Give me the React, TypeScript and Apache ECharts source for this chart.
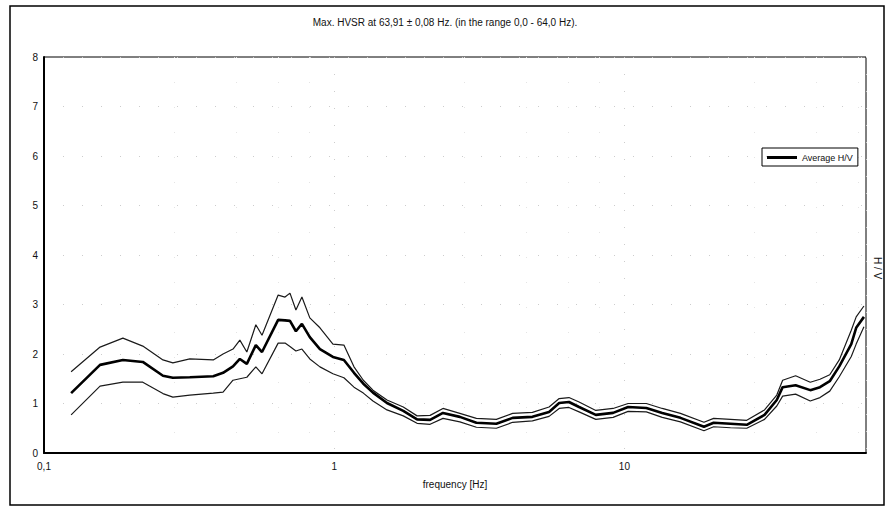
import React, { useEffect, useRef } from "react";
import * as echarts from "echarts";

const titleText = "Max. HVSR at 63,91 \u00b1 0,08 Hz. (in the range 0,0 - 64,0 Hz).";
const xName = "frequency [Hz]";
const yName = "H / V";
const legendName = "Average H/V";

const freqs = [
  0.124, 0.156, 0.187, 0.219, 0.257, 0.278, 0.318, 0.383, 0.414, 0.448, 0.473, 0.5,
  0.537, 0.564, 0.641, 0.677, 0.704, 0.738, 0.774, 0.824, 0.893, 0.99, 1.08, 1.17,
  1.26, 1.36, 1.52, 1.73, 1.93, 2.14, 2.37, 2.71, 3.09, 3.62, 4.12, 4.82, 5.5, 5.96,
  6.44, 6.98, 7.97, 9.14, 10.3, 11.9, 13.5, 15.6, 18.8, 20.3, 23.2, 26.4, 30.4, 33.5,
  35.1, 38.9, 43.7, 47.2, 51.0, 55.0, 60.5, 62.9, 66.9,
];
const upper = [
  1.64, 2.14, 2.32, 2.16, 1.88, 1.82, 1.9, 1.88, 2.0, 2.1, 2.28, 2.04,
  2.59, 2.38, 3.19, 3.15, 3.23, 2.89, 3.15, 2.73, 2.53, 2.2, 2.18, 1.74,
  1.47, 1.27, 1.07, 0.93, 0.75, 0.76, 0.9, 0.8, 0.7, 0.68, 0.8, 0.82, 0.93, 1.1,
  1.12, 1.03, 0.86, 0.9, 1.0, 1.0, 0.9, 0.8, 0.62, 0.7, 0.68, 0.66, 0.87, 1.17,
  1.47, 1.56, 1.43, 1.49, 1.58, 1.88, 2.48, 2.75, 2.97,
];
const average = [
  1.21, 1.78, 1.88, 1.84, 1.56, 1.52, 1.53, 1.55, 1.62, 1.75, 1.9, 1.8,
  2.18, 2.04, 2.69, 2.68, 2.67, 2.46, 2.61, 2.34, 2.1, 1.94, 1.88, 1.62,
  1.4, 1.22, 1.01, 0.85, 0.68, 0.67, 0.81, 0.73, 0.61, 0.59, 0.71, 0.73, 0.83, 1.01,
  1.03, 0.93, 0.77, 0.81, 0.93, 0.91, 0.81, 0.71, 0.53, 0.61, 0.59, 0.57, 0.77, 1.07,
  1.33, 1.37, 1.27, 1.33, 1.45, 1.75, 2.2, 2.53, 2.75,
];
const lower = [
  0.77, 1.35, 1.43, 1.43, 1.2, 1.13, 1.17, 1.21, 1.23, 1.47, 1.5, 1.53,
  1.74, 1.6, 2.22, 2.22, 2.15, 2.06, 2.1, 1.9, 1.74, 1.6, 1.52, 1.33,
  1.21, 1.05, 0.87, 0.75, 0.6, 0.58, 0.7, 0.63, 0.52, 0.5, 0.62, 0.65, 0.74, 0.9,
  0.92, 0.83, 0.68, 0.72, 0.84, 0.83, 0.72, 0.63, 0.45, 0.53, 0.51, 0.5, 0.68, 0.95,
  1.15, 1.19, 1.05, 1.12, 1.25, 1.54, 1.95, 2.2, 2.55,
];

const FONT = "'Liberation Sans Narrow', 'Liberation Sans', Arial, sans-serif";

export default function App() {
  const ref = useRef<HTMLDivElement>(null);
  useEffect(() => {
    if (!ref.current) return;
    const chart = echarts.init(ref.current, null, { renderer: "svg" });
    const pair = (arr: number[]) => freqs.map((f, i) => [f, arr[i]]);
    chart.setOption({
      animation: false,
      backgroundColor: "#fff",
      textStyle: { fontFamily: FONT },
      title: {
        text: titleText,
        left: "center",
        top: 12,
        textStyle: { fontSize: 10, fontWeight: "normal", color: "#111", fontFamily: FONT },
      },
      legend: {
        data: [{ name: legendName, icon: "rect" }],
        left: 762,
        top: 148,
        itemWidth: 30,
        itemHeight: 3,
        itemGap: 6,
        padding: [5, 5, 4, 5],
        borderColor: "#000",
        borderWidth: 1,
        textStyle: { fontSize: 9, color: "#111", fontFamily: FONT },
      },
      grid: {
        left: 44,
        top: 57,
        width: 822,
        height: 396,
        show: true,
        borderColor: "#000",
        borderWidth: 1,
        containLabel: false,
      },
      xAxis: {
        type: "log",
        logBase: 10,
        min: 0.1,
        max: 68,
        name: xName,
        nameLocation: "middle",
        nameGap: 26,
        nameTextStyle: { fontSize: 10, color: "#111", fontFamily: FONT },
        axisLine: { show: true, lineStyle: { color: "#000", width: 2 } },
        axisTick: { show: false },
        axisLabel: {
          fontSize: 10,
          color: "#111",
          margin: 8,
          fontFamily: FONT,
          showMaxLabel: false,
          formatter: (v: number) => String(v).replace(".", ","),
        },
        splitLine: { show: true, lineStyle: { color: "#ccc", type: [1, 16], width: 1 } },
        minorSplitLine: { show: true, lineStyle: { color: "#e4e4e4", type: [1, 24], width: 1 } },
      },
      yAxis: {
        type: "value",
        min: 0,
        max: 8,
        interval: 1,
        axisLine: { show: true, lineStyle: { color: "#000", width: 2 } },
        axisTick: { show: false },
        axisLabel: { fontSize: 10, color: "#111", margin: 6, fontFamily: FONT },
        splitLine: { show: true, lineStyle: { color: "#ccc", type: [1, 18], width: 1 } },
      },
      graphic: [
        {
          type: "rect",
          shape: { x: 10, y: 6, width: 874, height: 499 },
          style: { fill: "none", stroke: "#000", lineWidth: 1.5 },
          silent: true,
        },
        {
          type: "text",
          x: 877,
          y: 268,
          rotation: -Math.PI / 2,
          style: {
            text: yName,
            fontSize: 10,
            fill: "#111",
            fontFamily: FONT,
            textAlign: "center",
            textVerticalAlign: "middle",
          },
        },
      ],
      series: [
        {
          name: "upper",
          type: "line",
          data: pair(upper),
          showSymbol: false,
          lineStyle: { color: "#1a1a1a", width: 1.2 },
          itemStyle: { color: "#1a1a1a" },
        },
        {
          name: legendName,
          type: "line",
          data: pair(average),
          showSymbol: false,
          lineStyle: { color: "#000", width: 2.6 },
          itemStyle: { color: "#000" },
        },
        {
          name: "lower",
          type: "line",
          data: pair(lower),
          showSymbol: false,
          lineStyle: { color: "#1a1a1a", width: 1.2 },
          itemStyle: { color: "#1a1a1a" },
        },
      ],
    });
    return () => chart.dispose();
  }, []);
  return (
    <div
      ref={ref}
      style={{ position: "fixed", left: 0, top: 0, width: 890, height: 517 }}
    />
  );
}
